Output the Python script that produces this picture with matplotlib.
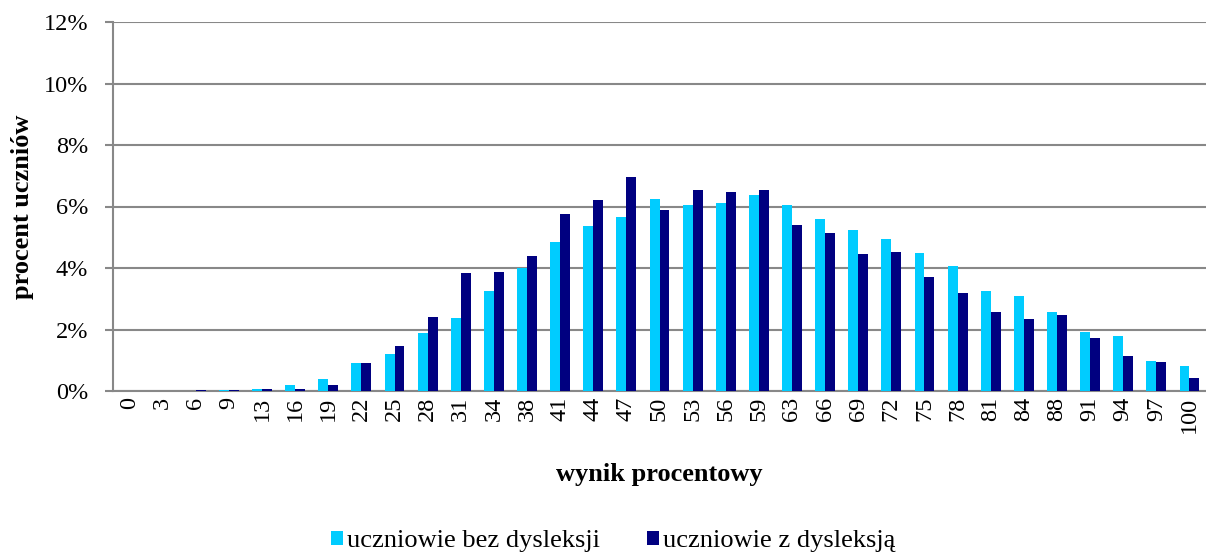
import matplotlib
matplotlib.use("Agg")
import matplotlib.pyplot as plt
import numpy as np
from matplotlib.patches import Patch

categories = ["0", "3", "6", "9", "13", "16", "19", "22", "25", "28", "31", "34", "38", "41", "44",
              "47", "50", "53", "56", "59", "63", "66", "69", "72", "75", "78", "81", "84", "88",
              "91", "94", "97", "100"]
bez_dysleksji = [0.0, 0.0, 0.0, 0.02, 0.05, 0.20, 0.40, 0.90, 1.20, 1.88, 2.38, 3.24, 4.00, 4.84,
                 5.37, 5.65, 6.25, 6.04, 6.10, 6.38, 6.05, 5.58, 5.24, 4.95, 4.50, 4.07, 3.24,
                 3.08, 2.58, 1.92, 1.78, 0.98, 0.80]
z_dysleksja = [0.0, 0.0, 0.02, 0.02, 0.05, 0.08, 0.19, 0.92, 1.45, 2.41, 3.84, 3.88, 4.39, 5.76,
               6.21, 6.96, 5.89, 6.54, 6.47, 6.54, 5.39, 5.14, 4.46, 4.53, 3.71, 3.20, 2.58,
               2.34, 2.48, 1.72, 1.15, 0.93, 0.41]
y_ticks = [0, 2, 4, 6, 8, 10, 12]
series_names = ["uczniowie bez dysleksji", "uczniowie z dysleksją"]

plt.rcParams['font.family'] = ['Liberation Serif', 'DejaVu Serif']

fig = plt.figure(figsize=(12.06, 5.53), dpi=100)
ax = fig.add_axes([113/1206, 1-391/553, 1-113/1206, (391-22)/553])

light = "#00CCFF"
dark = "#000080"
x = np.arange(len(categories))
w = 0.3
ax.bar(x - w/2, bez_dysleksji, width=w, color=light, zorder=3)
ax.bar(x + w/2, z_dysleksja, width=w, color=dark, zorder=3)

ax.set_xlim(-0.5, len(categories) - 0.5)
ax.set_ylim(0, 12)
ax.set_yticks(y_ticks)
ax.set_yticklabels([f"{t}%" for t in y_ticks], fontsize=17.5)
ax.set_xticks(x)
ax.set_xticklabels(categories, rotation=90, fontsize=17.5)
ax.tick_params(axis='x', length=0, pad=4)
ax.tick_params(axis='y', length=6, width=1.5, color="#888888", pad=12)

ax.yaxis.grid(True, color="#888888", linewidth=1.5, zorder=0)
ax.set_axisbelow(True)
for s in ["top", "right"]:
    ax.spines[s].set_visible(False)
for s in ["left", "bottom"]:
    ax.spines[s].set_color("#888888")
    ax.spines[s].set_linewidth(1.5)

ax.set_ylabel("procent uczniów", fontsize=19, fontweight="bold", labelpad=7)
ax.set_xlabel("wynik procentowy", fontsize=19, fontweight="bold", labelpad=22)

handles = [Patch(facecolor=light), Patch(facecolor=dark)]
fig.legend(handles, series_names, loc="center", bbox_to_anchor=(613/1206, 1-541/553),
           ncol=2, frameon=False, fontsize=19, handlelength=0.45, handleheight=0.45,
           handletextpad=0.15, columnspacing=1.8, borderpad=0)

fig.savefig("out.png", dpi=100)
